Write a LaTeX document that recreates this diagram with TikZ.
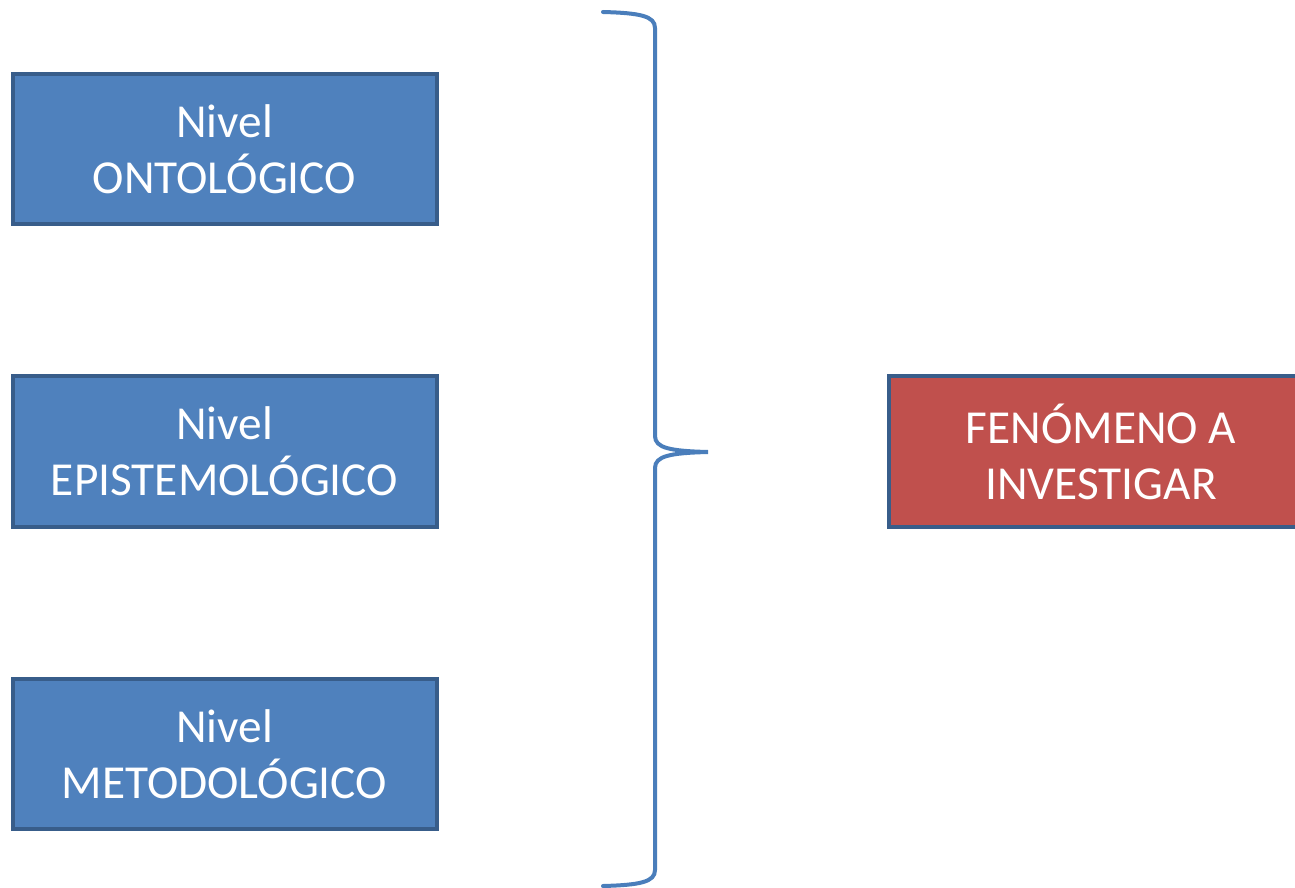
\documentclass[tikz,border=0pt]{standalone}
\usepackage{fontspec}
\setmainfont{Carlito}
\usepackage{tikz}

\definecolor{boxblue}{HTML}{4F81BD}
\definecolor{boxred}{HTML}{C0504D}
\definecolor{edgeblue}{HTML}{385D8A}
\definecolor{braceblue}{HTML}{4A7EBB}

\tikzset{
  nivel/.style={draw=edgeblue, line width=3pt, fill=boxblue, text=white,
    minimum width=318pt, minimum height=113pt, align=center,
    font=\fontsize{35.5}{42}\selectfont},
  fenomeno/.style={nivel, fill=boxred}
}

\begin{document}
\begin{tikzpicture}[x=0.75pt,y=0.75pt,yscale=-1,xscale=1]
\useasboundingbox (0,0) rectangle (1295,888);
\clip (0,0) rectangle (1295,888);

%Shape: Rectangle [Nivel ontologico]
\node[nivel] (onto) at (224.5,149) {Nivel\\ONTOLÓGICO};
%Shape: Rectangle [Nivel epistemologico]
\node[nivel] (episte) at (224.5,451.5) {Nivel\\EPISTEMOLÓGICO};
%Shape: Rectangle [Nivel metodologico]
\node[nivel] (metodo) at (224.5,754) {Nivel\\METODOLÓGICO};

%Shape: Right Brace
\draw [color=braceblue, line width=3pt, line cap=round]
  (603,12) .. controls (640,13) and (655,16) .. (655,28) -- (655,436)
  .. controls (655,448) and (670,451) .. (708,452)
  .. controls (670,453) and (655,456) .. (655,468) -- (655,870)
  .. controls (655,882) and (640,885) .. (603,886) ;

%Shape: Rectangle [Fenomeno]
\node[fenomeno] (fen) at (1101,451.5) {FENÓMENO A\\INVESTIGAR};
\end{tikzpicture}
\end{document}
